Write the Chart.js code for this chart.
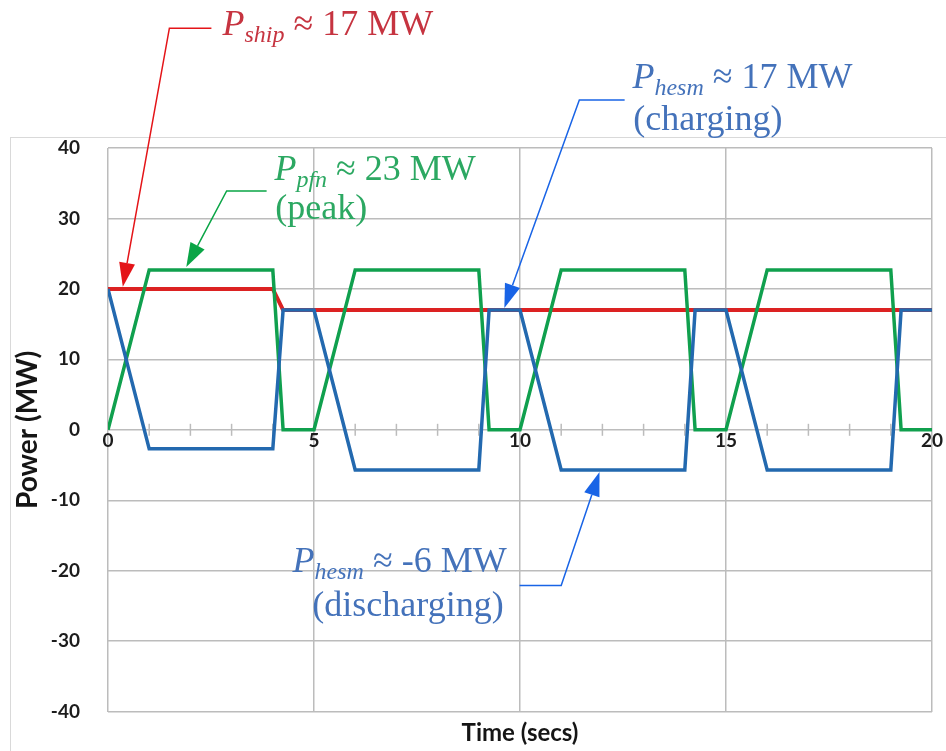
<!DOCTYPE html>
<html>
<head>
<meta charset="utf-8">
<title>Ship power</title>
<style>
  body { margin: 0; background: #fff; }
  canvas { display: block; }
</style>
</head>
<body>
<canvas id="powerChart" width="946" height="751"></canvas>

<script src="https://cdn.jsdelivr.net/npm/chart.js"></script>
<script>
// values, time in secs, power in MW
const shipTime  = [0, 4, 4.25, 20];
const shipPower = [20, 20, 17, 17];

const pfnTime  = [0, 1, 4, 4.25, 5, 6, 9, 9.25, 10, 11, 14, 14.25, 15, 16, 19, 19.25, 20];
const pfnPower = [0, 22.7, 22.7, 0, 0, 22.7, 22.7, 0, 0, 22.7, 22.7, 0, 0, 22.7, 22.7, 0, 0];

const hesmTime  = [0, 1, 4, 4.25, 5, 6, 9, 9.25, 10, 11, 14, 14.25, 15, 16, 19, 19.25, 20];
const hesmPower = [20, -2.7, -2.7, 17, 17, -5.7, -5.7, 17, 17, -5.7, -5.7, 17, 17, -5.7, -5.7, 17, 17];

const timeTicks  = [0, 5, 10, 15, 20];
const powerTicks = [-40, -30, -20, -10, 0, 10, 20, 30, 40];

// callouts: arrow tip, elbow and text anchor all in data units
const callouts = [
  { sub: 'ship', rest: ' \u2248 17 MW', second: null,
    text: 'rgb(198,52,64)', arrow: 'rgb(228,20,24)',
    tip: [0.36, 20.3], knee: [1.49, 57.0], end: [2.51, 57.0], at: [2.78, 56.0], at2: null },
  { sub: 'pfn', rest: ' \u2248 23 MW', second: '(peak)',
    text: 'rgb(44,168,98)', arrow: 'rgb(10,165,70)',
    tip: [1.9, 23.1], knee: [2.88, 33.9], end: [3.85, 33.9], at: [4.04, 35.4], at2: [4.06, 29.9] },
  { sub: 'hesm', rest: ' \u2248 17 MW', second: '(charging)',
    text: 'rgb(68,114,186)', arrow: 'rgb(25,100,230)',
    tip: [9.62, 17.3], knee: [11.44, 46.8], end: [12.54, 46.8], at: [12.73, 48.5], at2: [12.75, 42.6] },
  { sub: 'hesm', rest: ' \u2248 -6 MW', second: '(discharging)',
    text: 'rgb(68,114,186)', arrow: 'rgb(25,100,230)',
    tip: [11.93, -6.0], knee: [11.0, -22.1], end: [9.99, -22.1], at: [4.48, -20.2], at2: [4.96, -26.5] }
];

const gridColor = 'rgb(188,188,188)';

function pts(xs, ys) {
  return xs.map((x, i) => ({ x: x, y: ys[i] }));
}

const overlay = {
  id: 'overlay',
  beforeDraw(chart) {
    const ctx = chart.ctx;
    ctx.save();
    ctx.strokeStyle = 'rgb(217,217,217)';
    ctx.lineWidth = 1;
    ctx.strokeRect(10.5, 137.5, 960, 700);
    ctx.restore();
  },
  beforeDatasetsDraw(chart) {
    // minor tick marks across the zero line
    const ctx = chart.ctx, xs = chart.scales.x, ys = chart.scales.y;
    const y0 = ys.getPixelForValue(0);
    ctx.save();
    ctx.strokeStyle = gridColor;
    ctx.lineWidth = 1.5;
    for (let v = 1; v < 20; v++) {
      if (v % 5 === 0) continue;
      const px = xs.getPixelForValue(v);
      ctx.beginPath();
      ctx.moveTo(px, y0 - 6);
      ctx.lineTo(px, y0 + 6);
      ctx.stroke();
    }
    ctx.restore();
  },
  afterDraw(chart) {
    const ctx = chart.ctx, xs = chart.scales.x, ys = chart.scales.y;
    const P = (p) => [xs.getPixelForValue(p[0]), ys.getPixelForValue(p[1])];
    ctx.save();
    callouts.forEach(c => {
      const tip = P(c.tip), knee = P(c.knee), end = P(c.end);
      const dx = tip[0] - knee[0], dy = tip[1] - knee[1];
      const len = Math.hypot(dx, dy), ux = dx / len, uy = dy / len;
      const headLen = 24, headW = 8;
      const base = [tip[0] - ux * headLen, tip[1] - uy * headLen];

      ctx.strokeStyle = c.arrow;
      ctx.lineWidth = 1.5;
      ctx.beginPath();
      ctx.moveTo(end[0], end[1]);
      ctx.lineTo(knee[0], knee[1]);
      ctx.lineTo(base[0], base[1]);
      ctx.stroke();

      ctx.fillStyle = c.arrow;
      ctx.beginPath();
      ctx.moveTo(tip[0], tip[1]);
      ctx.lineTo(base[0] - uy * headW, base[1] + ux * headW);
      ctx.lineTo(base[0] + uy * headW, base[1] - ux * headW);
      ctx.closePath();
      ctx.fill();

      // label text
      ctx.fillStyle = c.text;
      ctx.textBaseline = 'alphabetic';
      ctx.textAlign = 'left';
      let [tx, ty] = P(c.at);
      ctx.font = 'italic 36px "Liberation Serif"';
      ctx.fillText('P', tx, ty);
      tx += ctx.measureText('P').width;
      ctx.font = 'italic 24px "Liberation Serif"';
      ctx.fillText(c.sub, tx, ty + 7);
      tx += ctx.measureText(c.sub).width;
      ctx.font = '36px "Liberation Serif"';
      ctx.fillText(c.rest, tx, ty);
      if (c.second) {
        const p2 = P(c.at2);
        ctx.fillText(c.second, p2[0], p2[1]);
      }
    });
    ctx.restore();
  }
};

const tickFont = { family: 'Lato', size: 19, weight: 'bold' };

const myChart = new Chart(document.getElementById('powerChart'), {
  type: 'line',
  data: {
    datasets: [
      { label: 'P hesm', data: pts(hesmTime, hesmPower), borderColor: 'rgb(35,105,175)', borderWidth: 3.5 },
      { label: 'P pfn', data: pts(pfnTime, pfnPower), borderColor: 'rgb(16,160,78)', borderWidth: 3.5 },
      { label: 'P ship', data: pts(shipTime, shipPower), borderColor: 'rgb(220,34,34)', borderWidth: 4 }
    ]
  },
  options: {
    responsive: false,
    animation: false,
    elements: { point: { radius: 0 }, line: { tension: 0, fill: false, borderJoinStyle: 'miter' } },
    layout: { padding: { top: 148, left: 10, right: 14, bottom: 0 } },
    plugins: { legend: { display: false }, tooltip: { enabled: false } },
    scales: {
      x: {
        type: 'linear', min: 0, max: 20,
        afterBuildTicks: s => { s.ticks = timeTicks.map(v => ({ value: v })); },
        ticks: { display: false },
        grid: { color: gridColor, lineWidth: 1.5, drawTicks: false },
        border: { display: false },
        title: { display: true, text: 'Time (secs)', color: '#151515',
                 font: { family: 'Lato', size: 24, weight: 'bold' }, padding: { top: 7.6, bottom: 1.6 } }
      },
      x2: {
        type: 'linear', axis: 'x', position: { y: 0 }, min: 0, max: 20,
        afterBuildTicks: s => { s.ticks = timeTicks.map(v => ({ value: v })); },
        ticks: { padding: 0, color: '#1c1c1c', font: tickFont, maxRotation: 0 },
        grid: { display: false, drawTicks: false },
        border: { display: false }
      },
      y: {
        type: 'linear', min: -40, max: 40,
        afterBuildTicks: s => { s.ticks = powerTicks.map(v => ({ value: v })); },
        afterFit: s => { s.width = 98; },
        ticks: { padding: 28, color: '#1c1c1c', font: tickFont },
        grid: { color: gridColor, lineWidth: 1.5, drawTicks: false },
        border: { display: false },
        title: { display: true, text: 'Power (MW)', color: '#151515',
                 font: { family: 'Lato', size: 28, weight: 'bold' }, padding: { top: 1, bottom: 0 } }
      }
    }
  },
  plugins: [overlay]
});
</script>
</body>
</html>
